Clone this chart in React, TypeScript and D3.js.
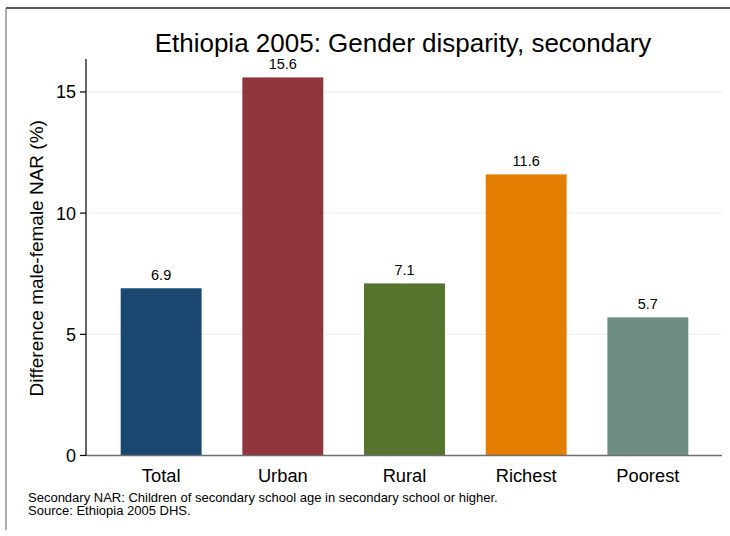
import React from "react";
import * as d3 from "d3";

const categories = ["Total", "Urban", "Rural", "Richest", "Poorest"];
const values = [6.9, 15.6, 7.1, 11.6, 5.7];
const colors = ["#1a476f", "#90353b", "#55752f", "#e37e00", "#6e8e84"];
const yTicks = [0, 5, 10, 15];
const title = "Ethiopia 2005: Gender disparity, secondary";
const yTitle = "Difference male-female NAR (%)";
const notes = [
  "Secondary NAR: Children of secondary school age in secondary school or higher.",
  "Source: Ethiopia 2005 DHS.",
];

export default function App() {
  const W = 730, H = 536;
  const left = 86, right = 722, top = 59, bottom = 455.5;
  const y = d3.scaleLinear().domain([0, 16.36]).range([bottom, top]);
  const x = d3.scaleBand().domain(categories).range([left + 14, right - 13]).paddingInner(0.335).paddingOuter(0.17);
  const font = "Liberation Sans, Arial, sans-serif";
  return (
    <svg width={W} height={H} style={{ position: "absolute", left: 0, top: 0, fontFamily: font }}>
      <rect x={0} y={0} width={W} height={H} fill="#fff" />
      <line x1={6} x2={730} y1={8} y2={8} stroke="#222" strokeWidth={1.5} />
      <line x1={6} x2={6} y1={8} y2={530} stroke="#777" strokeWidth={1.2} />
      <text x={403} y={52} textAnchor="middle" fontSize={26} fill="#000">{title}</text>
      {yTicks.filter(t => t > 0).map(t => (
        <line key={"g" + t} x1={left} x2={right} y1={y(t)} y2={y(t)} stroke="#eaf2f3" strokeWidth={1.2} />
      ))}
      {categories.map((c, i) => (
        <g key={c}>
          <rect x={x(c)} y={y(values[i])} width={x.bandwidth()} height={bottom - y(values[i])} fill={colors[i]} />
          <text x={(x(c) as number) + x.bandwidth() / 2} y={y(values[i]) - 8} textAnchor="middle" fontSize={14.5} fill="#000">{values[i].toFixed(1)}</text>
          <text x={(x(c) as number) + x.bandwidth() / 2} y={482} textAnchor="middle" fontSize={18.3} fill="#000">{c}</text>
        </g>
      ))}
      <line x1={left} x2={right} y1={bottom} y2={bottom} stroke="#6e6e6e" strokeWidth={1.5} />
      <line x1={left} x2={left} y1={top} y2={bottom} stroke="#000" strokeWidth={1.2} />
      {yTicks.map(t => (
        <g key={"t" + t}>
          <line x1={left - 6} x2={left} y1={y(t)} y2={y(t)} stroke="#000" strokeWidth={1.2} />
          <text x={76} y={y(t) + 6.5} textAnchor="end" fontSize={18} fill="#000">{t}</text>
        </g>
      ))}
      <text transform={`translate(43,${(top + bottom) / 2 + 1}) rotate(-90)`} textAnchor="middle" fontSize={19} fill="#000">{yTitle}</text>
      {notes.map((n, i) => (
        <text key={i} x={28} y={502 + i * 12.5} fontSize={13} fill="#000">{n}</text>
      ))}
    </svg>
  );
}
